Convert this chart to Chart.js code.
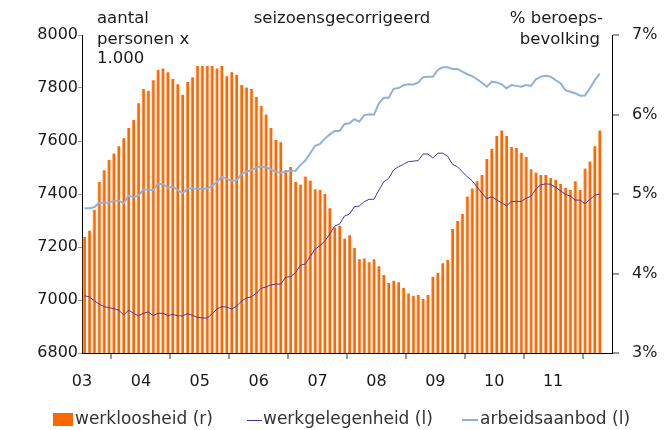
<!DOCTYPE html>
<html>
<head>
<meta charset="utf-8">
<script src="https://cdn.jsdelivr.net/npm/chart.js@4.4.1/dist/chart.umd.min.js"></script>
<style>
  html, body { margin: 0; padding: 0; background: #fff; }
  #wrap { width: 667px; height: 430px; position: relative; }
</style>
</head>
<body>
<div id="wrap"><canvas id="arbeidsmarkt" width="667" height="430"></canvas></div>
<script>
// tick labels
const yearLabels = ['03', '04', '05', '06', '07', '08', '09', '10', '11'];
const leftTicks = [6800, 7000, 7200, 7400, 7600, 7800, 8000];
const rightTicks = [3, 4, 5, 6, 7];

// werkloosheid, % beroepsbevolking (rechter as), jan 2003 - okt 2011
const werkloosheid = [
  4.46, 4.54, 4.80, 5.15, 5.30, 5.43, 5.51, 5.60, 5.70, 5.83, 5.93, 6.14,
  6.32, 6.30, 6.43, 6.56, 6.58, 6.53, 6.45, 6.38, 6.25, 6.41, 6.47, 6.61,
  6.61, 6.61, 6.61, 6.58, 6.61, 6.48, 6.53, 6.50, 6.37, 6.34, 6.32, 6.22,
  6.11, 6.00, 5.83, 5.68, 5.65, 5.30, 5.34, 5.15, 5.12, 5.22, 5.17, 5.06,
  5.05, 5.00, 4.82, 4.58, 4.60, 4.44, 4.48, 4.32, 4.18, 4.19, 4.14, 4.18,
  4.09, 3.98, 3.88, 3.91, 3.89, 3.82, 3.75, 3.72, 3.73, 3.68, 3.73, 3.96,
  4.01, 4.13, 4.17, 4.56, 4.66, 4.75, 4.97, 5.07, 5.16, 5.24, 5.44, 5.57,
  5.73, 5.80, 5.73, 5.59, 5.58, 5.52, 5.47, 5.31, 5.27, 5.24, 5.24, 5.20,
  5.18, 5.13, 5.08, 5.05, 5.16, 5.05, 5.32, 5.41, 5.60, 5.80
];

// werkgelegenheid, x 1.000 personen (linker as)
const werkgelegenheid = [
  7016, 7012, 6997, 6985, 6975, 6971, 6967, 6962, 6943, 6962, 6950, 6940,
  6950, 6955, 6941, 6950, 6950, 6941, 6946, 6940, 6940, 6948, 6942, 6935,
  6932, 6932, 6947, 6966, 6975, 6973, 6966, 6977, 6996, 7007, 7012, 7025,
  7044, 7049, 7057, 7060, 7060, 7086, 7088, 7103, 7131, 7136, 7164, 7192,
  7205, 7223, 7249, 7279, 7287, 7317, 7324, 7352, 7355, 7371, 7380, 7380,
  7415, 7446, 7459, 7491, 7503, 7512, 7522, 7524, 7526, 7551, 7551, 7536,
  7554, 7554, 7543, 7512, 7503, 7484, 7465, 7450, 7427, 7403, 7382, 7390,
  7377, 7367, 7355, 7372, 7372, 7372, 7384, 7392, 7418, 7435, 7438, 7437,
  7425, 7412, 7399, 7392, 7377, 7377, 7363, 7380, 7395, 7400
];

// arbeidsaanbod, x 1.000 personen (linker as)
const arbeidsaanbod = [
  7346, 7346, 7350, 7367, 7367, 7367, 7375, 7375, 7365, 7394, 7388, 7394,
  7416, 7417, 7414, 7438, 7438, 7424, 7428, 7415, 7403, 7421, 7421, 7419,
  7419, 7421, 7430, 7446, 7465, 7457, 7450, 7452, 7475, 7484, 7490, 7499,
  7503, 7501, 7493, 7484, 7480, 7484, 7488, 7488, 7509, 7526, 7554, 7582,
  7589, 7609, 7625, 7638, 7638, 7664, 7667, 7682, 7673, 7697, 7701, 7699,
  7742, 7763, 7763, 7797, 7800, 7811, 7814, 7813, 7820, 7841, 7842, 7842,
  7868, 7878, 7878, 7872, 7872, 7862, 7852, 7845, 7833, 7820, 7805, 7824,
  7821, 7814, 7799, 7811, 7808, 7805, 7811, 7808, 7833, 7843, 7846, 7843,
  7830, 7818, 7792, 7786, 7780, 7771, 7772, 7799, 7830, 7854
];

const ORANGE = '#ff6600';
const DARK_BLUE = '#3a3aaa';
const LIGHT_BLUE = '#8fb2da';
const FONT = 'DejaVu Sans, Verdana, sans-serif';

// put each month in the middle of its slot on the linear x axis
function toPoints(arr) {
  return arr.map((v, i) => ({ x: i + 0.5, y: v }));
}

// titles above the plot and the legend below it
const extraText = {
  id: 'extraText',
  afterDraw(chart) {
    const ctx = chart.ctx;
    ctx.save();
    ctx.fillStyle = '#1a1a1a';
    ctx.font = '16.5px ' + FONT;
    ctx.textBaseline = 'middle';

    ctx.textAlign = 'left';
    ctx.fillText('aantal', 97, 19);
    ctx.fillText('personen x', 97, 40);
    ctx.fillText('1.000', 97, 59);

    ctx.textAlign = 'center';
    ctx.fillText('seizoensgecorrigeerd', 342, 19);

    ctx.textAlign = 'right';
    ctx.fillText('% beroeps-', 603, 19);
    ctx.fillText('bevolking', 600, 40);

    // legend
    const ly = 420;
    ctx.fillStyle = ORANGE;
    ctx.fillRect(53, ly - 7, 20, 13);
    ctx.strokeStyle = DARK_BLUE;
    ctx.lineWidth = 1;
    ctx.beginPath();
    ctx.moveTo(247, ly + 0.5);
    ctx.lineTo(262, ly + 0.5);
    ctx.stroke();
    ctx.strokeStyle = LIGHT_BLUE;
    ctx.lineWidth = 2;
    ctx.beginPath();
    ctx.moveTo(462, ly);
    ctx.lineTo(478, ly);
    ctx.stroke();

    ctx.fillStyle = '#333';
    ctx.font = '17px ' + FONT;
    ctx.textAlign = 'left';
    ctx.fillText('werkloosheid (r)', 75, ly);
    ctx.fillText('werkgelegenheid (l)', 263, ly);
    ctx.fillText('arbeidsaanbod (l)', 480, ly);
    ctx.restore();
  }
};

new Chart(document.getElementById('arbeidsmarkt'), {
  type: 'bar',
  data: {
    datasets: [
      {
        type: 'line',
        label: 'werkgelegenheid (l)',
        data: toPoints(werkgelegenheid),
        yAxisID: 'yLeft',
        borderColor: DARK_BLUE,
        borderWidth: 1,
        pointRadius: 0,
        tension: 0,
        order: 1
      },
      {
        type: 'line',
        label: 'arbeidsaanbod (l)',
        data: toPoints(arbeidsaanbod),
        yAxisID: 'yLeft',
        borderColor: LIGHT_BLUE,
        borderWidth: 2,
        pointRadius: 0,
        tension: 0,
        order: 2
      },
      {
        label: 'werkloosheid (r)',
        data: toPoints(werkloosheid),
        yAxisID: 'yRight',
        backgroundColor: ORANGE,
        borderColor: '#ffae78',
        borderWidth: { left: 1, right: 0, top: 0, bottom: 0 },
        borderSkipped: false,
        barThickness: 3,
        order: 3
      }
    ]
  },
  options: {
    responsive: false,
    animation: false,
    layout: { padding: { top: 35, left: 0, right: 0, bottom: 0 } },
    plugins: {
      legend: { display: false },
      tooltip: { enabled: false }
    },
    scales: {
      x: {
        type: 'linear',
        offset: false,
        min: 0,
        max: yearLabels.length * 12,
        afterFit: (scale) => { scale.height = 77; },
        afterBuildTicks: (scale) => {
          scale.ticks = yearLabels.concat(['']).map((_, i) => ({ value: i * 12 }));
        },
        border: { display: true, color: '#000', width: 1 },
        grid: { drawOnChartArea: false, drawTicks: true, tickLength: 6, tickColor: '#999', lineWidth: 2 },
        ticks: {
          autoSkip: false,
          maxRotation: 0,
          padding: 13,
          color: '#1a1a1a',
          font: { family: FONT, size: 16 },
          callback: (v) => yearLabels[v / 12] || ''
        }
      },
      yLeft: {
        position: 'left',
        min: leftTicks[0],
        max: leftTicks[leftTicks.length - 1],
        afterFit: (scale) => { scale.width = 82; },
        afterBuildTicks: (scale) => { scale.ticks = leftTicks.map(v => ({ value: v })); },
        border: { display: true, color: '#000', width: 1 },
        grid: { drawOnChartArea: false, drawTicks: true, tickLength: 4, tickColor: '#999' },
        ticks: {
          padding: 0,
          color: '#1a1a1a',
          font: { family: FONT, size: 16 },
          callback: (v) => String(v)
        }
      },
      yRight: {
        position: 'right',
        min: rightTicks[0],
        max: rightTicks[rightTicks.length - 1],
        afterFit: (scale) => { scale.width = 55; },
        afterBuildTicks: (scale) => { scale.ticks = rightTicks.map(v => ({ value: v })); },
        border: { display: true, color: '#000', width: 1 },
        grid: { drawOnChartArea: false, drawTicks: true, tickLength: 7, tickColor: '#999', lineWidth: 2 },
        ticks: {
          padding: 13,
          color: '#1a1a1a',
          font: { family: FONT, size: 16 },
          callback: (v) => v + '%'
        }
      }
    }
  },
  plugins: [extraText]
});
</script>
</body>
</html>
